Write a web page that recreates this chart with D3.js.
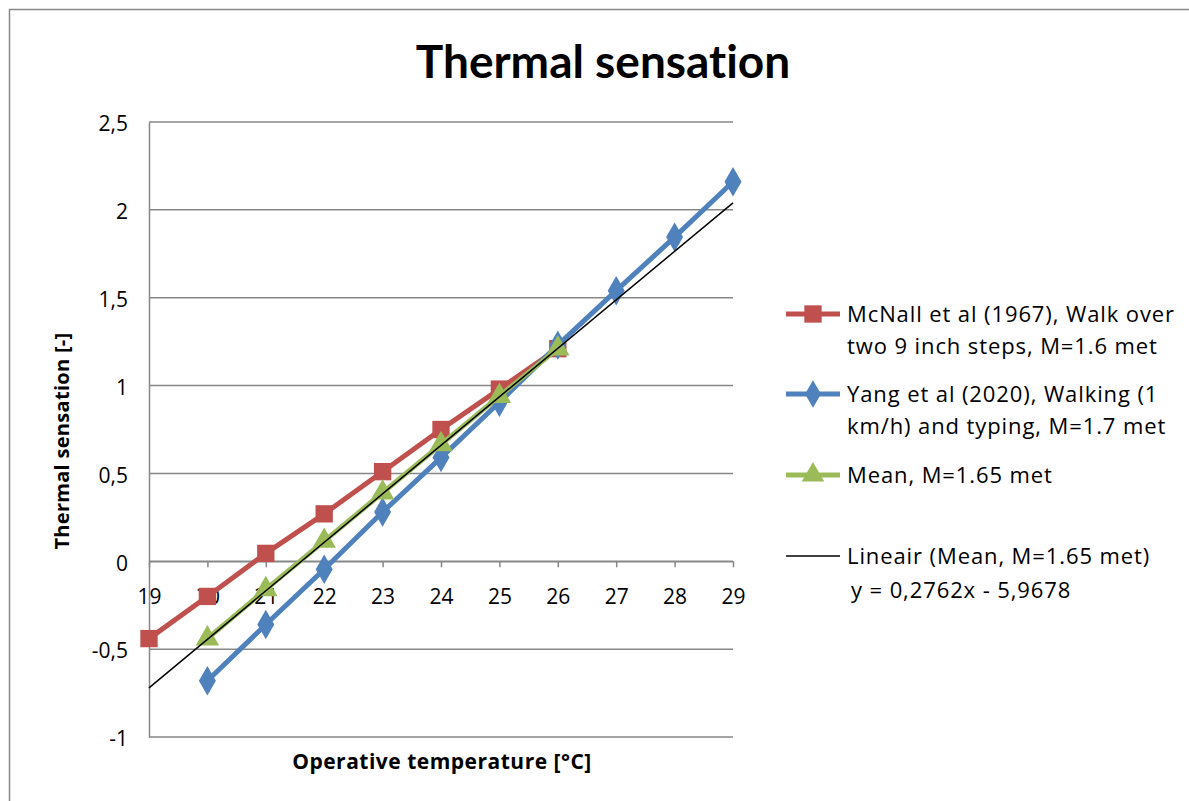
<!DOCTYPE html>
<html><head><meta charset="utf-8">
<script src="https://cdn.jsdelivr.net/npm/d3@7"></script>
<style>body{margin:0;background:#fff}svg{display:block}text{font-variant-ligatures:none;font-feature-settings:"liga" 0,"clig" 0,"dlig" 0}</style>
</head><body>
<svg id="c" width="1189" height="801"></svg>
<script>
const xTicks = [19,20,21,22,23,24,25,26,27,28,29];
const yTicks = [-1,-0.5,0,0.5,1,1.5,2,2.5];
const mcnallX = [19,20,21,22,23,24,25,26];
const mcnallY = [-0.44,-0.20,0.045,0.27,0.51,0.75,0.98,1.21];
const yangX = [20,21,22,23,24,25,26,27,28,29];
const yangY = [-0.68,-0.36,-0.045,0.28,0.59,0.905,1.23,1.54,1.845,2.16];
const meanX = [20,21,22,23,24,25,26];
const meanY = [-0.44,-0.16,0.115,0.39,0.665,0.94,1.21];
const trendX = [19,29];
const trendY = [-0.72,2.04];
const legendLabels = [
  ["McNall et al (1967), Walk over","two 9 inch steps, M=1.6 met"],
  ["Yang et al (2020), Walking (1","km/h) and typing, M=1.7 met"],
  ["Mean, M=1.65 met"],
  ["Lineair (Mean, M=1.65 met)","y = 0,2762x - 5,9678"]
];

const FONT = "'Open Sans', Lato, sans-serif";
const svg = d3.select("#c").attr("font-family", FONT);
svg.append("rect").attr("x",9.5).attr("y",9.5).attr("width",1200).attr("height",820)
  .attr("fill","#fff").attr("stroke","#898989").attr("stroke-width",1.5);

const x = d3.scaleLinear().domain([19,29]).range([149,733]);
const y = d3.scaleLinear().domain([-1,2.5]).range([737,122]);
const fmt = d => String(d).replace(".",",");

// gridlines
svg.append("g").selectAll("line").data(yTicks).join("line")
  .attr("x1",149).attr("x2",733).attr("y1",d=>y(d)).attr("y2",d=>y(d))
  .attr("stroke","#878787").attr("stroke-width",1.5);

// y axis
const ya = svg.append("g").attr("transform","translate(149,0)")
  .call(d3.axisLeft(y).tickValues(yTicks).tickFormat(fmt).tickSize(0).tickPadding(21));
ya.attr("font-family",FONT);
ya.select(".domain").attr("stroke","#878787").attr("stroke-width",1.5);
ya.selectAll("text").attr("font-size",21).attr("fill","#000").attr("dy","0.42em");

// x axis at y=0
const xa = svg.append("g").attr("transform",`translate(0,${y(0)})`)
  .call(d3.axisBottom(x).tickValues(xTicks).tickFormat(d=>d).tickSize(6).tickSizeOuter(0).tickPadding(22));
xa.attr("font-family",FONT);
xa.select(".domain").attr("stroke","#878787").attr("stroke-width",1.5);
xa.selectAll(".tick line").attr("stroke","#878787").attr("stroke-width",1.5);
xa.selectAll("text").attr("font-size",21).attr("fill","#000");

const line = d3.line().x(d=>x(d[0])).y(d=>y(d[1]));
const red="#C0504D", blue="#4F81BD", green="#9BBB59";

const mc = mcnallX.map((v,i)=>[v,mcnallY[i]]);
const ya2 = yangX.map((v,i)=>[v,yangY[i]]);
const mn = meanX.map((v,i)=>[v,meanY[i]]);
const tr = trendX.map((v,i)=>[v,trendY[i]]);

function series(data,color,shape,size){
  svg.append("path").datum(data).attr("d",line).attr("fill","none")
    .attr("stroke",color).attr("stroke-width",5).attr("stroke-linejoin","round");
  svg.append("g").selectAll("path").data(data).join("path")
    .attr("transform",d=>`translate(${x(d[0])},${y(d[1])})`)
    .attr("d",d3.symbol().type(shape).size(size)).attr("fill",color);
}
series(mc,red,d3.symbolSquare,300);
series(ya2,blue,d3.symbolDiamond,250);
series(mn,green,d3.symbolTriangle,240);
svg.append("path").datum(tr).attr("d",line).attr("fill","none").attr("stroke","#000").attr("stroke-width",1.5);

// title & axis titles
svg.append("text").attr("x",603).attr("y",78).attr("text-anchor","middle")
  .attr("font-family","Lato, sans-serif").attr("font-size",46).attr("font-weight","bold")
  .style("font-variant-ligatures","none").style("font-feature-settings","'liga' 0, 'clig' 0")
  .text("Thermal sensation");
svg.append("text").attr("transform","translate(69,441) rotate(-90)").attr("text-anchor","middle")
  .attr("font-size",20).attr("font-weight","bold").attr("letter-spacing",0.3).text("Thermal sensation [-]");
svg.append("text").attr("x",442).attr("y",769).attr("text-anchor","middle")
  .attr("font-size",21).attr("font-weight","bold").attr("letter-spacing",0.5).text("Operative temperature [°C]");

// legend
const leg = [
  {c:red,s:d3.symbolSquare,sz:300,y:314},
  {c:blue,s:d3.symbolDiamond,sz:220,y:394},
  {c:green,s:d3.symbolTriangle,sz:220,y:475},
  {c:"#000",s:null,y:556}
];
leg.forEach((l,i)=>{
  const g = svg.append("g");
  g.append("line").attr("x1",786).attr("x2",840).attr("y1",l.y).attr("y2",l.y)
    .attr("stroke",l.c).attr("stroke-width",l.s?5:1.5);
  if(l.s) g.append("path").attr("transform",`translate(813,${l.y})`)
    .attr("d",d3.symbol().type(l.s).size(l.sz)).attr("fill",l.c);
  legendLabels[i].forEach((t,j)=>{
    g.append("text").attr("x",i===3&&j===1?851:847).attr("y",l.y+8+j*(i===3?34:32))
      .attr("font-size",22).attr("letter-spacing",0.9).text(t);
  });
});
</script>
</body></html>
